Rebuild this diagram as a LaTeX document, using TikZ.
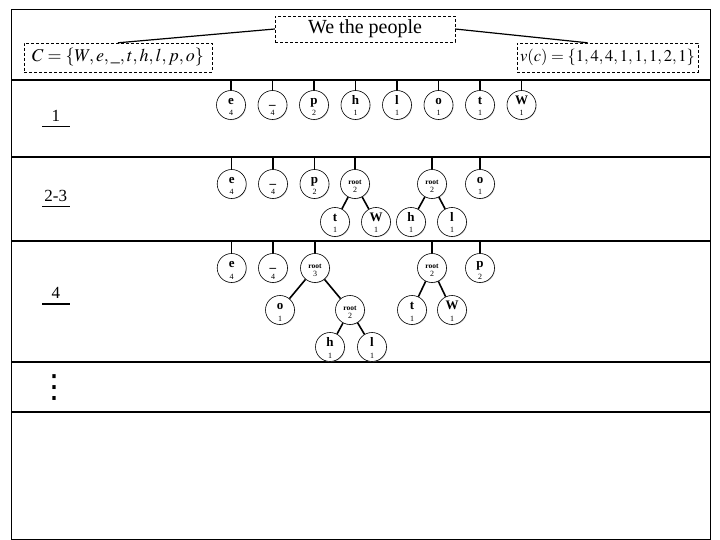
\documentclass[tikz,border=0pt]{standalone}
\usepackage{mathptmx}
\usepackage[no-math]{fontspec}
\setmainfont{Liberation Serif}
\newfontfamily\dejavu{DejaVu Sans}
\usepackage{tikz}
\usetikzlibrary{calc, shadows}

\newcommand{\cn}[2]{\rule{0pt}{10.5pt}\textbf{#1}\\[-0.5pt]{\fontsize{8}{8}\selectfont #2}}
\newcommand{\rn}[2]{\rule{0pt}{9pt}\textbf{#1}\\[0pt]{\fontsize{8}{8}\selectfont #2}}

\begin{document}
\begin{tikzpicture}[x=1pt, y=-1pt,
    cnode/.style={circle, draw, semithin, fill=white, minimum size=29pt, inner sep=0pt,
        align=center, font=\fontsize{13}{12}\selectfont,
        drop shadow={shadow xshift=0.7pt, shadow yshift=-0.7pt, opacity=0.35}},
    semithin/.style={line width=0.6pt},
    rnode/.style={cnode, font=\fontsize{7.5}{8}\selectfont},
    setbox/.style={draw, dashed, dash pattern=on 3pt off 2pt, thin, inner sep=0pt},
    sep/.style={line width=1.8pt},
    stem/.style={line width=1.4pt},
    edge/.style={line width=1.6pt},
    step label/.style={font=\fontsize{17}{17}\selectfont, minimum width=27pt,
        inner xsep=0pt, inner ysep=5pt, anchor=south}]
    \useasboundingbox (0,0) rectangle (720,540);

    % Frame and rows
    \draw[thin] (11,9.5) rectangle (710,539);
    \draw[sep] (11,80) -- (710,80);
    \draw[sep] (11,157) -- (710,157);
    \draw[sep] (11,241) -- (710,241);
    \draw[sep] (11,362) -- (710,362);
    \draw[sep] (11,412) -- (710,412);
    \coordinate (s1) at (0,80);
    \coordinate (s2) at (0,157);
    \coordinate (s3) at (0,241);

    % Input text and sets
    \node[setbox, minimum width=180pt, minimum height=26pt, font=\fontsize{20}{20}\selectfont]
        (title) at (365,29) {We the people};
    \node[setbox, minimum width=188pt, minimum height=29pt, font=\fontsize{18}{18}\selectfont]
        (cset) at (118,57.5) {$C=\{W,e,\_,t,h,l,p,o\}$};
    \node[setbox, minimum width=181pt, minimum height=29pt, font=\fontsize{16.5}{17}\selectfont]
        (vset) at (607.5,57.5) {$v(c)=\{1,4,4,1,1,1,2,1\}$};
    \draw[line width=1.2pt] (title.west) -- (cset.north);
    \draw[line width=1.2pt] (title.east) -- ($(vset.north west)!0.39!(vset.north east)$);

    % Step labels
    \node[step label] (lab1) at (55.8,126.7) {1};
    \node[step label] (lab23) at (55.8,206.7) {2-3};
    \node[step label] (lab4) at (55.8,304) {4};
    \node[font=\fontsize{32}{32}\selectfont\dejavu, inner sep=0pt] (dots) at (54.5,388) {⋮};
    \draw[line width=1.6pt] (lab1.south west) -- (lab1.south east);
    \draw[line width=1.3pt] (lab23.south west) -- (lab23.south east);
    \draw[line width=1.3pt] (lab4.south west) -- (lab4.south east);

    % Step 1
    \node[cnode] (e1) at (231,105) {\cn{e}{4}};
    \node[cnode] (u1) at (272.5,105) {\cn{\_}{4}};
    \node[cnode] (p1) at (314,105) {\cn{p}{2}};
    \node[cnode] (h1) at (355.5,105) {\cn{h}{1}};
    \node[cnode] (l1) at (397,105) {\cn{l}{1}};
    \node[cnode] (o1) at (438.5,105) {\cn{o}{1}};
    \node[cnode] (t1) at (480,105) {\cn{t}{1}};
    \node[cnode] (w1) at (521.5,105) {\cn{W}{1}};
    \foreach \n in {e1,u1,p1,h1,l1,o1,t1,w1}
        \draw[stem] (\n.north) -- (\n.north |- s1);

    % Steps 2-3
    \node[cnode] (e2) at (231.7,184) {\cn{e}{4}};
    \node[cnode] (u2) at (273,184) {\cn{\_}{4}};
    \node[cnode] (p2) at (314.5,184) {\cn{p}{2}};
    \node[rnode] (ra2) at (355,184) {\rn{root}{2}};
    \node[rnode] (rb2) at (432,184) {\rn{root}{2}};
    \node[cnode] (o2) at (480,184) {\cn{o}{1}};
    \node[cnode] (t2) at (335,222) {\cn{t}{1}};
    \node[cnode] (w2) at (376,222) {\cn{W}{1}};
    \node[cnode] (h2) at (411,222) {\cn{h}{1}};
    \node[cnode] (l2) at (452,222) {\cn{l}{1}};
    \foreach \n in {e2,u2,p2,ra2,rb2,o2}
        \draw[stem] (\n.north) -- (\n.north |- s2);
    \draw[edge] (ra2) -- (t2);
    \draw[edge] (ra2) -- (w2);
    \draw[edge] (rb2) -- (h2);
    \draw[edge] (rb2) -- (l2);

    % Step 4
    \node[cnode] (e4) at (231.7,268) {\cn{e}{4}};
    \node[cnode] (u4) at (273,268) {\cn{\_}{4}};
    \node[rnode] (ra4) at (315,268) {\rn{root}{3}};
    \node[rnode] (rb4) at (432,268) {\rn{root}{2}};
    \node[cnode] (p4) at (480,268) {\cn{p}{2}};
    \node[cnode] (o4) at (280,310) {\cn{o}{1}};
    \node[rnode] (rc4) at (350,310) {\rn{root}{2}};
    \node[cnode] (t4) at (412,310) {\cn{t}{1}};
    \node[cnode] (w4) at (452,310) {\cn{W}{1}};
    \node[cnode] (h4) at (330,347) {\cn{h}{1}};
    \node[cnode] (l4) at (372,347) {\cn{l}{1}};
    \foreach \n in {e4,u4,ra4,rb4,p4}
        \draw[stem] (\n.north) -- (\n.north |- s3);
    \draw[edge] (ra4) -- (o4);
    \draw[edge] (ra4) -- (rc4);
    \draw[edge] (rc4) -- (h4);
    \draw[edge] (rc4) -- (l4);
    \draw[edge] (rb4) -- (t4);
    \draw[edge] (rb4) -- (w4);
\end{tikzpicture}
\end{document}
